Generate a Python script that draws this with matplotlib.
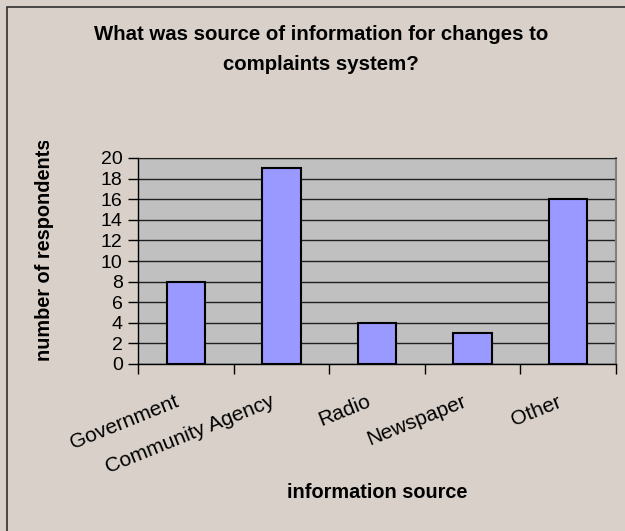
import matplotlib

matplotlib.use("Agg")
import matplotlib.pyplot as plt
import matplotlib.transforms as mtransforms
from matplotlib.patches import Rectangle
import numpy as np

categories = ["Government", "Community Agency", "Radio", "Newspaper", "Other"]
counts = [8, 19, 4, 3, 16]
y_ticks = list(range(0, 21, 2))

W, H = 625, 531
plt.rcParams["font.family"] = ["Liberation Sans", "DejaVu Sans"]

fig = plt.figure(figsize=(W / 100, H / 100), dpi=100)
fig.patch.set_facecolor("#d8d0c9")

# plot area in pixel coordinates (left, top, right, bottom)
L, T, R, B = 138, 158, 616, 364
ax = fig.add_axes([L / W, 1 - B / H, (R - L) / W, (B - T) / H])
ax.set_facecolor("#c0c0c0")

x = np.arange(len(categories))
ax.bar(x, counts, width=0.4, color="#9999ff", edgecolor="black", linewidth=1.5, zorder=3)

ax.set_xlim(-0.5, len(categories) - 0.5)
ax.set_ylim(0, 20)
ax.set_yticks(y_ticks)
ax.set_yticklabels([str(v) for v in y_ticks], fontsize=14)
ax.yaxis.grid(True, color="#202020", linewidth=1, zorder=1)
ax.set_axisbelow(True)

# category boundary ticks below the axis, labels placed separately
ax.set_xticks(np.arange(-0.5, len(categories), 1.0))
ax.set_xticklabels([])
ax.tick_params(axis="x", direction="out", length=7, width=1, color="black")
ax.tick_params(axis="y", direction="out", length=7, width=1, color="black", pad=4)

for side in ("left", "bottom"):
    ax.spines[side].set_color("black")
    ax.spines[side].set_linewidth(1)
ax.spines["top"].set_color("#202020")
ax.spines["right"].set_color("#808080")
ax.spines["right"].set_linewidth(1.5)

lab_tr = ax.get_xaxis_transform() + mtransforms.ScaledTranslation(-4 / 100, -28 / 100, fig.dpi_scale_trans)
for xi, name in zip(x, categories):
    ax.text(xi, 0, name, transform=lab_tr, rotation=22, ha="right", va="top", fontsize=15)

fig.text(321 / W, 1 - 35 / H, "What was source of information for changes to",
         ha="center", va="center", fontsize=14.7, fontweight="bold")
fig.text(321 / W, 1 - 65 / H, "complaints system?",
         ha="center", va="center", fontsize=14.7, fontweight="bold")

fig.text((L + R) / 2 / W, 1 - 493 / H, "information source",
         ha="center", va="center", fontsize=14.3, fontweight="bold")

ylab = fig.text(45 / W, 1 - 361 / H, "number of respondents", rotation=90,
                ha="center", va="bottom", fontsize=14.3, fontweight="bold")
ylab.set_clip_box(mtransforms.Bbox([[0, 0], [W, H - 141]]))
ylab.set_clip_on(True)

# chart frame
fig.patches.append(Rectangle((7 / W, -0.1), 1.0, 1.1 - 7 / H, transform=fig.transFigure,
                             fill=False, edgecolor="#303030", linewidth=1.2))

fig.savefig("out.png", dpi=100, facecolor=fig.get_facecolor())
